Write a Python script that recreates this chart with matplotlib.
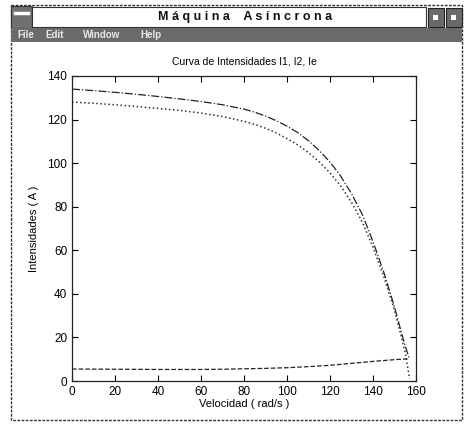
import numpy as np
import matplotlib
matplotlib.use('Agg')
import matplotlib.pyplot as plt
from matplotlib.patches import Rectangle

plt.rcParams['font.family'] = ['Liberation Sans', 'DejaVu Sans']

# velocidad (rad/s) y corrientes (A)
vel = [0, 10, 20, 30, 40, 50, 60, 70, 80, 85, 90, 95, 100, 105, 110, 115, 120,
       125, 130, 135, 140, 145, 150, 153, 155, 157]
I1 = [134, 133.3, 132.5, 131.6, 130.6, 129.5, 128.3, 126.8, 124.8, 123.4, 121.6,
      119.5, 117, 114, 110.3, 105.8, 100.5, 94, 86, 76.5, 64, 50, 34, 23, 16, 10]
I2 = [128, 127.5, 126.8, 126, 125.1, 124.2, 123, 121.4, 119.2, 117.8, 116,
      113.9, 111.3, 108.4, 104.8, 100.6, 95.5, 89.5, 82, 73, 61.5, 48, 32.5, 21, 13, 1]
Ie = [5.5, 5.45, 5.4, 5.35, 5.3, 5.3, 5.3, 5.4, 5.6, 5.7, 5.8, 5.95, 6.1, 6.35,
      6.6, 6.9, 7.2, 7.65, 8.1, 8.55, 9.0, 9.4, 9.8, 10.0, 10.1, 10.3]

W, H = 467, 425
fig = plt.figure(figsize=(W / 100, H / 100), dpi=100)
fig.patch.set_facecolor('white')

# marco de la ventana
bg = fig.add_axes([0, 0, 1, 1], zorder=0)
bg.set_xlim(0, W)
bg.set_ylim(H, 0)
bg.axis('off')
bg.add_patch(Rectangle((11, 5), 451, 415, fill=False, ec='#333333', lw=1.0, ls=(0, (2, 1))))
bg.add_patch(Rectangle((11, 6), 21, 22, fc='#707070', ec='#333333', lw=0.8))
bg.plot([15, 28], [13, 13], color='white', lw=2.5)
bg.add_patch(Rectangle((32, 7), 394, 20, fc='white', ec='#333333', lw=0.8))
bg.add_patch(Rectangle((11, 28), 451, 14, fc='#6a6a6a', ec='none'))
for bx in (428, 446):
    bg.add_patch(Rectangle((bx, 8), 16, 19, fc='#6a6a6a', ec='#222222', lw=0.8))
    bg.add_patch(Rectangle((bx + 5, 15), 5, 5, fc='white', ec='none'))
bg.text(245, 17, 'M á q u i n a    A s í n c r o n a', ha='center', va='center',
        fontsize=9, fontweight='bold', color='#111111')
for mx, lab in [(17, 'File'), (45, 'Edit'), (83, 'Window'), (140, 'Help')]:
    bg.text(mx, 35, lab, ha='left', va='center', fontsize=7, fontweight='bold',
            color='#e8e8e8')

ax = fig.add_axes([72 / W, 1 - 381 / H, 344 / W, 305 / H], zorder=1)
ax.plot(vel, I1, color='#222222', ls='-.', lw=0.9)
ax.plot(vel, I2, color='#333333', ls=':', lw=1.1)
ax.plot(vel, Ie, color='#222222', ls='--', lw=0.9)

ax.set_xlim(0, 160)
ax.set_ylim(0, 140)
ax.set_xticks(range(0, 161, 20))
ax.set_yticks(range(0, 141, 20))
ax.tick_params(direction='in', top=True, right=True, labelsize=8.5, length=4, width=0.8)
for s in ax.spines.values():
    s.set_linewidth(0.9)
    s.set_color('#222222')
ax.set_title('Curva de Intensidades I1, I2, Ie', fontsize=7.5, pad=8)
ax.set_xlabel('Velocidad ( rad/s )', fontsize=8, labelpad=1)
ax.set_ylabel('Intensidades ( A )', fontsize=8, labelpad=6)

fig.savefig('out.png', dpi=100)
